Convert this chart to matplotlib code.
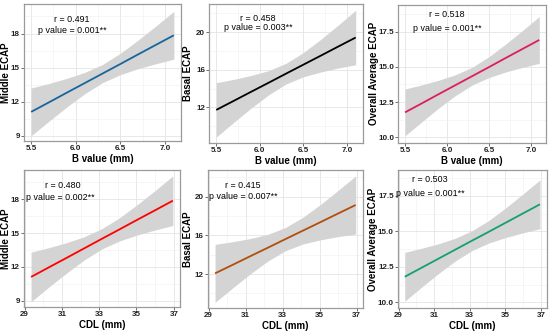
import matplotlib
matplotlib.use("Agg")
import matplotlib.pyplot as plt
from matplotlib.ticker import FixedLocator

plt.rcParams['font.family'] = ['Liberation Sans', 'DejaVu Sans']

# ---------------- data ----------------
b_x = [5.5, 5.7, 5.9, 6.1, 6.3, 6.5, 6.7, 6.9, 7.1]
cdl_x = [29.35, 30.30, 31.25, 32.20, 33.15, 34.10, 35.05, 36.00, 36.95]

middle_b_fit = [11.11, 11.95, 12.80, 13.64, 14.48, 15.32, 16.17, 17.01, 17.85]
middle_b_upper = [13.21, 13.61, 14.06, 14.58, 15.28, 16.26, 17.43, 18.67, 19.95]
middle_b_lower = [9.01, 10.29, 11.54, 12.70, 13.68, 14.38, 14.91, 15.35, 15.75]

basal_b_fit = [11.72, 12.68, 13.65, 14.61, 15.58, 16.54, 17.50, 18.47, 19.43]
basal_b_upper = [14.62, 14.97, 15.39, 15.90, 16.68, 17.83, 19.24, 20.76, 22.33]
basal_b_lower = [8.82, 10.39, 11.91, 13.32, 14.48, 15.25, 15.76, 16.18, 16.53]

overall_b_fit = [11.77, 12.41, 13.06, 13.70, 14.34, 14.98, 15.63, 16.27, 16.91]
overall_b_upper = [13.43, 13.72, 14.05, 14.44, 14.97, 15.72, 16.62, 17.58, 18.57]
overall_b_lower = [10.11, 11.10, 12.07, 12.96, 13.71, 14.24, 14.64, 14.96, 15.25]

middle_c_fit = [11.11, 11.96, 12.80, 13.65, 14.50, 15.34, 16.19, 17.03, 17.88]
middle_c_upper = [13.31, 13.71, 14.15, 14.68, 15.40, 16.37, 17.54, 18.78, 20.08]
middle_c_lower = [8.91, 10.21, 11.45, 12.62, 13.60, 14.31, 14.84, 15.28, 15.68]

basal_c_fit = [12.07, 12.95, 13.84, 14.72, 15.61, 16.49, 17.37, 18.26, 19.14]
basal_c_upper = [15.07, 15.34, 15.67, 16.10, 16.81, 17.87, 19.20, 20.65, 22.14]
basal_c_lower = [9.07, 10.56, 12.01, 13.34, 14.41, 15.11, 15.54, 15.87, 16.14]

overall_c_fit = [11.80, 12.44, 13.08, 13.72, 14.36, 14.99, 15.63, 16.27, 16.91]
overall_c_upper = [13.52, 13.81, 14.13, 14.52, 15.06, 15.79, 16.68, 17.64, 18.63]
overall_c_lower = [10.08, 11.07, 12.03, 12.92, 13.66, 14.19, 14.58, 14.90, 15.19]

r_labels = ["r = 0.491", "r = 0.458", "r = 0.518", "r = 0.480", "r = 0.415", "r = 0.503"]
p_labels = ["p value = 0.001**", "p value = 0.003**", "p value = 0.001**",
            "p value = 0.002**", "p value = 0.007**", "p value = 0.001**"]
y_titles = ["Middle ECAP", "Basal ECAP", "Overall Average ECAP",
            "Middle ECAP", "Basal ECAP", "Overall Average ECAP"]
x_titles = ["B value (mm)"] * 3 + ["CDL (mm)"] * 3

b_ticks = [5.5, 6.0, 6.5, 7.0]
b_tick_labels = ["5.5", "6.0", "6.5", "7.0"]
cdl_ticks = [29, 31, 33, 35, 37]
cdl_tick_labels = ["29", "31", "33", "35", "37"]
middle_yticks = [9, 12, 15, 18]
middle_ytick_labels = ["9", "12", "15", "18"]
basal_yticks = [12, 16, 20]
basal_ytick_labels = ["12", "16", "20"]
overall_yticks = [10.0, 12.5, 15.0, 17.5]
overall_ytick_labels = ["10.0", "12.5", "15.0", "17.5"]

# ---------------- styling / layout ----------------
line_colors = ["#17659b", "#000000", "#dc1f5a", "#ff0000", "#b04f0c", "#13a071"]
rects = [
    [0.0436, 0.5753, 0.2855, 0.4127],
    [0.3805, 0.5702, 0.2789, 0.4178],
    [0.7242, 0.5702, 0.2685, 0.4148],
    [0.0436, 0.0762, 0.2836, 0.4117],
    [0.3782, 0.0732, 0.2813, 0.4148],
    [0.7236, 0.0723, 0.2704, 0.4157],
]
ylabel_x = [-0.082, -0.105, -0.130, -0.082, -0.097, -0.134]
ylims = [(8.55, 20.6), (8.23, 23.0), (9.62, 19.39),
         (8.47, 20.6), (8.52, 22.76), (9.6, 19.33)]
text_pos = [
    (0.306, 0.885, 0.306, 0.803),
    (0.318, 0.892, 0.318, 0.830),
    (0.329, 0.928, 0.329, 0.831),
    (0.248, 0.885, 0.235, 0.800),
    (0.228, 0.890, 0.228, 0.808),
    (0.215, 0.933, 0.215, 0.831),
]

panels = [
    (b_x, middle_b_fit, middle_b_lower, middle_b_upper, b_ticks, b_tick_labels, middle_yticks, middle_ytick_labels),
    (b_x, basal_b_fit, basal_b_lower, basal_b_upper, b_ticks, b_tick_labels, basal_yticks, basal_ytick_labels),
    (b_x, overall_b_fit, overall_b_lower, overall_b_upper, b_ticks, b_tick_labels, overall_yticks, overall_ytick_labels),
    (cdl_x, middle_c_fit, middle_c_lower, middle_c_upper, cdl_ticks, cdl_tick_labels, middle_yticks, middle_ytick_labels),
    (cdl_x, basal_c_fit, basal_c_lower, basal_c_upper, cdl_ticks, cdl_tick_labels, basal_yticks, basal_ytick_labels),
    (cdl_x, overall_c_fit, overall_c_lower, overall_c_upper, cdl_ticks, cdl_tick_labels, overall_yticks, overall_ytick_labels),
]

fig = plt.figure(figsize=(5.5, 3.32), dpi=100)

for i, (xs, fit, lo, up, xt, xtl, yt, ytl) in enumerate(panels):
    ax = fig.add_axes(rects[i])
    span = xs[-1] - xs[0]
    ax.set_xlim(xs[0] - 0.05 * span, xs[-1] + 0.05 * span)
    ax.set_ylim(*ylims[i])

    ax.set_xticks(xt)
    ax.set_xticklabels(xtl)
    ax.set_yticks(yt)
    ax.set_yticklabels(ytl)
    xminor = [(a + b) / 2 for a, b in zip(xt[:-1], xt[1:])]
    xminor = [xt[0] - (xt[1] - xt[0]) / 2] + xminor + [xt[-1] + (xt[1] - xt[0]) / 2]
    yminor = [(a + b) / 2 for a, b in zip(yt[:-1], yt[1:])]
    yminor = [yt[0] - (yt[1] - yt[0]) / 2] + yminor + [yt[-1] + (yt[1] - yt[0]) / 2]
    ax.xaxis.set_minor_locator(FixedLocator(xminor))
    ax.yaxis.set_minor_locator(FixedLocator(yminor))
    ax.grid(which='major', color='#e4e4e4', linewidth=0.6)
    ax.grid(which='minor', color='#efefef', linewidth=0.4)
    ax.set_axisbelow(True)
    ax.tick_params(which='minor', length=0)
    ax.tick_params(which='major', length=2, width=0.6, color='#555555',
                   labelsize=5.8, pad=1.0, labelcolor='#222222')
    for lab in ax.get_xticklabels() + ax.get_yticklabels():
        lab.set_fontweight('bold')
    for sp in ax.spines.values():
        sp.set_color('#9a9a9a')
        sp.set_linewidth(0.9)

    ax.fill_between(xs, lo, up, color='#d4d4d4', linewidth=0, zorder=2)
    ax.plot(xs, fit, color=line_colors[i], linewidth=1.3, zorder=3,
            solid_capstyle='butt')

    rx, ry, px, py = text_pos[i]
    ax.text(rx, ry, r_labels[i], transform=ax.transAxes, ha='center', va='center',
            fontsize=6.4, color='black', zorder=4)
    ax.text(px, py, p_labels[i], transform=ax.transAxes, ha='center', va='center',
            fontsize=6.4, color='black', zorder=4)

    ax.set_xlabel(x_titles[i], fontsize=7, fontweight='bold', labelpad=1.2)
    ax.set_ylabel(y_titles[i], fontsize=7, fontweight='bold')
    ax.yaxis.set_label_coords(ylabel_x[i], 0.5)

fig.savefig("out.png", dpi=100)
